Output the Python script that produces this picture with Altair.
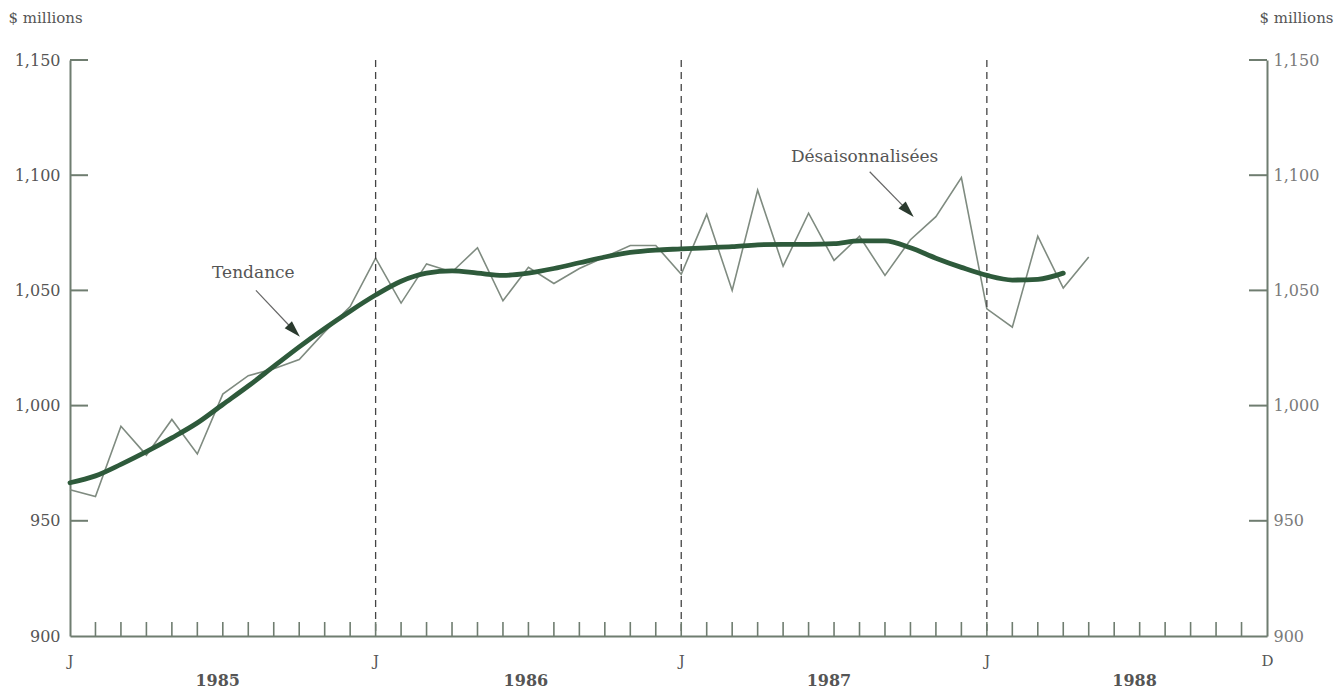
import altair as alt
import pandas as pd

# ---- data ----
months_sa = list(range(41))  # 0 = Jan 1985
sa_values = [963.5, 960.5, 991.0, 978.5, 994.0, 979.0, 1005.0, 1013.0, 1016.0, 1020.0,
             1032.0, 1043.0, 1064.0, 1044.5, 1061.5, 1058.0, 1068.5, 1045.5, 1060.0, 1053.0,
             1059.5, 1064.5, 1069.5, 1069.5, 1057.0, 1083.0, 1050.0, 1093.5, 1060.5, 1083.5,
             1063.0, 1073.5, 1056.5, 1072.0, 1082.0, 1099.0, 1042.0, 1034.0, 1073.5, 1051.0,
             1064.5]
months_trend = list(range(40))
trend_values = [966.5, 969.5, 974.5, 980.0, 986.0, 992.5, 1000.5, 1008.5, 1017.0, 1025.5,
                1033.5, 1041.0, 1048.0, 1054.0, 1057.5, 1058.5, 1057.5, 1056.5, 1057.5, 1059.5,
                1062.0, 1064.5, 1066.5, 1067.5, 1068.0, 1068.5, 1069.0, 1069.8, 1070.0, 1070.0,
                1070.3, 1071.5, 1071.5, 1068.5, 1064.0, 1060.0, 1056.5, 1054.5, 1054.8, 1057.5]
divider_months = [12, 24, 36]
year_labels = ["1985", "1986", "1987", "1988"]
year_label_months = [5.8, 17.9, 29.8, 41.8]
x_label_months = [0, 12, 24, 36, 47]
y_tick_values = [900, 950, 1000, 1050, 1100, 1150]
minor_tick_months = list(range(1, 47))

# annotations: label, text position, arrow start, arrow head
ann_labels = ["Tendance", "Désaisonnalisées"]
ann_text_m = [7.2, 31.2]
ann_text_v = [1057.4, 1108.0]
ann_from_m = [7.3, 31.4]
ann_from_v = [1050.0, 1101.5]
ann_to_m = [8.8, 32.9]
ann_to_v = [1032.5, 1084.5]

W, H = 1197, 576
TEXT = "#555555"
AXIS = "#6f7d70"
FONT = "DejaVu Serif"

xs = alt.Scale(domain=[0, 47], nice=False, zero=False)
ys = alt.Scale(domain=[900, 1150], nice=False, zero=False)

sa_df = pd.DataFrame({"m": months_sa, "v": sa_values})
tr_df = pd.DataFrame({"m": months_trend, "v": trend_values})
div_df = pd.DataFrame({"m": divider_months})
yr_df = pd.DataFrame({"m": year_label_months, "label": year_labels})
mt_df = pd.DataFrame({"m": minor_tick_months})
yt_df = pd.DataFrame({"v": y_tick_values[1:]})
ann_df = pd.DataFrame({"label": ann_labels, "tm": ann_text_m, "tv": ann_text_v,
                       "fm": ann_from_m, "fv": ann_from_v, "hm": ann_to_m, "hv": ann_to_v})

LABEL_FMT = "format(datum.value, ',')"

x_axis = alt.Axis(values=x_label_months, labelExpr="datum.value == 47 ? 'D' : 'J'",
                  ticks=False, grid=False, domainColor=AXIS, domainWidth=2,
                  labelPadding=17, labelFontSize=15, labelColor=TEXT, labelFont=FONT,
                  labelFlush=False, labelOverlap=False, title=None)
y_axis_left = alt.Axis(values=y_tick_values, labelExpr=LABEL_FMT, ticks=False, grid=False,
                       domainColor=AXIS, domainWidth=2, labelPadding=10, labelFontSize=16,
                       labelColor=TEXT, labelFont=FONT, title="$ millions", titleAngle=0,
                       titleX=-62, titleY=-43, titleAlign="left", titleBaseline="middle",
                       titleFontWeight="normal", titleFontSize=15, titleColor=TEXT, titleFont=FONT)
y_axis_right = alt.Axis(orient="right", values=y_tick_values, labelExpr=LABEL_FMT, ticks=False,
                        grid=False, domainColor=AXIS, domainWidth=2, labelPadding=6,
                        labelFontSize=16, labelColor="#7a7a7a", labelFont=FONT,
                        title="$ millions", titleAngle=0, titleX=66, titleY=-43,
                        titleAlign="right", titleBaseline="middle", titleFontWeight="normal",
                        titleFontSize=15, titleColor=TEXT, titleFont=FONT)


def X(field):
    return alt.X(field, scale=xs, axis=x_axis)


def Y(field):
    return alt.Y(field, scale=ys, axis=y_axis_left)


dividers = alt.Chart(div_df).mark_rule(color="#444444", strokeWidth=1.3, strokeDash=[7, 5]).encode(
    x=X("m:Q"))

minor_ticks = alt.Chart(mt_df).mark_rule(color=AXIS, strokeWidth=1.6).encode(
    x=X("m:Q"), y=alt.value(H), y2=alt.value(H - 14))

left_ticks = alt.Chart(yt_df).mark_rule(color=AXIS, strokeWidth=2).encode(
    x=alt.value(0), x2=alt.value(18), y=Y("v:Q"))

sa_line = alt.Chart(sa_df).mark_line(color="#7f8b80", strokeWidth=1.6).encode(
    x=X("m:Q"), y=Y("v:Q"))

trend_line = alt.Chart(tr_df).mark_line(color="#2e5a3b", strokeWidth=4.8,
                                        interpolate="monotone", strokeCap="round").encode(
    x=X("m:Q"), y=Y("v:Q"))

ann_text = alt.Chart(ann_df).mark_text(font=FONT, fontSize=17, color=TEXT).encode(
    x=X("tm:Q"), y=Y("tv:Q"), text="label:N")

ann_shaft = alt.Chart(ann_df).mark_rule(color="#666666", strokeWidth=1.2).encode(
    x=X("fm:Q"), y=Y("fv:Q"), x2="hm:Q", y2="hv:Q")

ann_head = alt.Chart(ann_df).mark_point(shape="M0,-1L0.6,1L-0.6,1Z", filled=True, size=280,
                                        angle=136, color="#2a3a2e", opacity=1).encode(
    x=X("hm:Q"), y=Y("hv:Q"))

years = alt.Chart(yr_df).mark_text(font=FONT, fontSize=16, fontWeight="bold", color=TEXT,
                                   baseline="middle").encode(
    x=X("m:Q"), y=alt.value(H + 45), text="label:N")

left_layer = alt.layer(sa_line, dividers, minor_ticks, left_ticks, trend_line,
                       ann_shaft, ann_head, ann_text, years)

right_layer = alt.Chart(yt_df).mark_rule(color=AXIS, strokeWidth=2).encode(
    x=alt.value(W - 18), x2=alt.value(W), y=alt.Y("v:Q", scale=ys, axis=y_axis_right))

chart = alt.layer(left_layer, right_layer).resolve_scale(y="independent").properties(
    width=W, height=H,
    autosize=alt.AutoSizeParams(type="none"),
    padding={"left": 62, "top": 52, "right": 68, "bottom": 56},
    background="white",
).configure_view(stroke=None)

chart.save("out.html", embed_options={"renderer": "svg", "actions": False})
